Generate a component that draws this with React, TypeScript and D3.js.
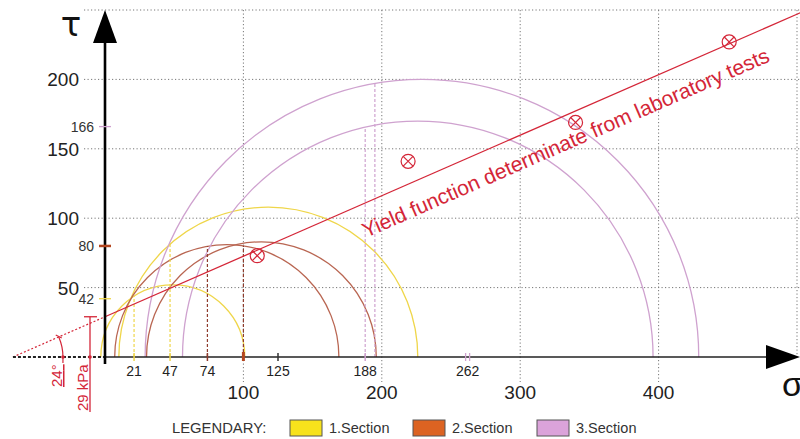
import React from "react";
import * as d3 from "d3";

// Mohr circles per section: [centre sigma, radius] in kPa
const section1Circles = [[49, 52], [118, 108]];
const section2Circles = [[88, 81], [113, 83]];
const section3Circles = [[229, 200], [226, 170]];
const sectionNames = ["1.Section", "2.Section", "3.Section"];

const sigmaTicks = [100, 200, 300, 400];
const sigmaGrid = [100, 200, 300, 400, 500];
const tauTicks = [50, 100, 150, 200];
const tauGrid = [50, 100, 150, 200, 250];

// special marks on the axes and which section they belong to (-1 = none)
const sigmaMarks = [21, 47, 74, 125, 188, 262];
const sigmaMarkSection = [0, 0, 1, -1, 2, 2];
const tauMarks = [42, 80, 166];
const tauMarkSection = [0, 1, 2];

// dashed verticals: sigma, section, circle index
const dropSigma = [21, 47, 74, 100, 188, 195];
const dropSection = [0, 0, 1, 1, 2, 2];
const dropCircle = [0, 1, 0, 0, 1, 0];

// laboratory test points [sigma, tau]
const testPoints = [[110, 73], [219, 141], [340, 169], [451, 227]];

const cohesion = 29;
const frictionAngle = 24;
const yieldSlope = 0.436;

const W = 800, H = 439;
const circleColors = ["#efd64a", "#b96652", "#cfa2cf"];
const boxColors = ["#f7e21c", "#dc6322", "#dba3da"];
const red = "#d42638";
const font = "Liberation Sans, Arial, sans-serif";

export default function App() {
  const x = d3.scaleLinear().domain([0, 500]).range([105, 797]);
  const y = d3.scaleLinear().domain([0, 250]).range([357, 10]);
  const sections = [section1Circles, section2Circles, section3Circles];

  const semi = (c: number, r: number) => {
    const rx = x(c + r) - x(c), ry = y(0) - y(r);
    return `M${x(c - r)},${y(0)} A${rx},${ry} 0 0 1 ${x(c + r)},${y(0)}`;
  };

  const sigma0 = -cohesion / yieldSlope;
  const sigmaEnd = 505;
  const lineY = (s: number) => y(cohesion + yieldSlope * s);
  const angPx = (Math.atan2(lineY(0) - lineY(400), x(400) - x(0)) * 180) / Math.PI;

  // angle arc around the intercept
  const ax = x(sigma0), ay = y(0), ar = 50;
  const aRad = (angPx * Math.PI) / 180;
  const arcEnd = [ax + ar * Math.cos(aRad), ay - ar * Math.sin(aRad)];

  return (
    <div style={{ position: "fixed", left: 0, top: 0 }}>
      <svg width={W} height={H} style={{ display: "block", background: "#fff" }} fontFamily={font}>
        {/* grid */}
        {tauGrid.map((t) => (
          <line key={"hg" + t} x1={84} x2={800} y1={y(t)} y2={y(t)} stroke="#777" strokeWidth={1} strokeDasharray="1.2 2.3" />
        ))}
        {sigmaGrid.map((s) => (
          <line key={"vg" + s} x1={x(s)} x2={x(s)} y1={y(250)} y2={s === 500 ? y(0) : 382} stroke="#777" strokeWidth={1} strokeDasharray="1.2 2.3" />
        ))}

        {/* Mohr circles */}
        {sections.map((circles, si) =>
          circles.map(([c, r], ci) => (
            <path key={`c${si}${ci}`} d={semi(c, r)} fill="none" stroke={circleColors[si]} strokeWidth={1.3} />
          ))
        )}

        {/* dashed verticals */}
        {dropSigma.map((s, i) => {
          const [c, r] = sections[dropSection[i]][dropCircle[i]];
          const t = Math.sqrt(Math.max(0, r * r - (s - c) * (s - c)));
          return (
            <line key={"d" + i} x1={x(s)} x2={x(s)} y1={y(0)} y2={y(t)} stroke={dropSection[i] === 1 ? "#8e3b2c" : circleColors[dropSection[i]]}
              strokeWidth={1.2} strokeDasharray="3 2" />
          );
        })}

        {/* yield line */}
        <line x1={x(sigma0)} y1={lineY(sigma0)} x2={x(0)} y2={lineY(0)} stroke={red} strokeWidth={1.2} strokeDasharray="2 2" />
        <line x1={x(0)} y1={lineY(0)} x2={x(sigmaEnd)} y2={lineY(sigmaEnd)} stroke={red} strokeWidth={1.3} />
        <text transform={`translate(366,238) rotate(${-angPx})`} fontSize={21} fill={red} textLength={442} lengthAdjust="spacingAndGlyphs">
          Yield function determinate from laboratory tests
        </text>

        {/* test points */}
        {testPoints.map(([s, t], i) => (
          <g key={"p" + i} transform={`translate(${x(s)},${y(t)})`} stroke={red} strokeWidth={1.2} fill="none">
            <circle r={7} />
            <line x1={-4.9} y1={-4.9} x2={4.9} y2={4.9} />
            <line x1={-4.9} y1={4.9} x2={4.9} y2={-4.9} />
          </g>
        ))}

        {/* sigma axis */}
        <line x1={x(sigma0)} x2={x(0)} y1={y(0)} y2={y(0)} stroke="#222" strokeWidth={2} strokeDasharray="3 2" />
        <line x1={x(0)} x2={770} y1={y(0)} y2={y(0)} stroke="#222" strokeWidth={1.6} />
        <path d={`M766,345 L800,${y(0)} L766,369 Z`} fill="#000" />
        <text x={782} y={396} fontSize={34} fill="#111">σ</text>

        {/* tau axis */}
        <line x1={x(0)} x2={x(0)} y1={364} y2={40} stroke="#000" strokeWidth={2.6} />
        <path d={`M${x(0)},10 L${x(0) + 12},43 L${x(0) - 12},43 Z`} fill="#000" />
        <text x={71} y={36} fontSize={34} textAnchor="middle" fill="#111" fontFamily="DejaVu Sans, sans-serif">τ</text>

        {/* main tick labels */}
        {sigmaTicks.map((s) => (
          <text key={"sx" + s} x={x(s)} y={399} fontSize={19} textAnchor="middle" fill="#222">{s}</text>
        ))}
        {tauTicks.map((t) => (
          <text key={"ty" + t} x={79} y={y(t) + 7} fontSize={19} textAnchor="end" fill="#222">{t}</text>
        ))}

        {/* special sigma marks */}
        {sigmaMarks.map((s, i) => {
          const sec = sigmaMarkSection[i];
          const col = sec < 0 ? "#333" : sec === 1 ? "#8e3b2c" : circleColors[sec];
          return (
            <g key={"sm" + s}>
              {sec === 2 && s > 200 ? (
                <>
                  <line x1={x(s) - 2} x2={x(s) - 2} y1={y(0) - 4} y2={y(0) + 4} stroke={col} strokeWidth={1.3} />
                  <line x1={x(s) + 2} x2={x(s) + 2} y1={y(0) - 4} y2={y(0) + 4} stroke={col} strokeWidth={1.3} />
                </>
              ) : (
                <line x1={x(s)} x2={x(s)} y1={y(0) - 4} y2={y(0) + 4} stroke={col} strokeWidth={1.5} />
              )}
              <text x={x(s)} y={376} fontSize={14} textAnchor="middle" fill="#222">{s}</text>
            </g>
          );
        })}
        <line x1={x(100)} x2={x(100)} y1={y(0) - 5} y2={y(0) + 4} stroke="#b4461f" strokeWidth={3} />

        {/* special tau marks */}
        {tauMarks.map((t, i) => {
          const sec = tauMarkSection[i];
          const col = sec === 1 ? "#b4461f" : circleColors[sec];
          return (
            <g key={"tm" + t}>
              <line x1={x(0) - 6} x2={x(0) + 6} y1={y(t)} y2={y(t)} stroke={col} strokeWidth={sec === 1 ? 2.5 : 1.3} />
              <text x={94} y={y(t) + 5} fontSize={14} textAnchor="end" fill="#333">{t}</text>
            </g>
          );
        })}

        {/* angle + cohesion annotation */}
        <path d={`M${ax + ar},${ay + 6} L${ax + ar},${ay} A${ar},${ar} 0 0 0 ${arcEnd[0]},${arcEnd[1]}`} fill="none" stroke={red} strokeWidth={1.2} />
        <line x1={arcEnd[0] - 3} y1={arcEnd[1] - 2} x2={arcEnd[0] + 3} y2={arcEnd[1] + 1} stroke={red} strokeWidth={1.2} />
        <circle cx={ax + ar} cy={ay} r={1.8} fill={red} />
        <text transform={`translate(62,387) rotate(-90)`} fontSize={15} fill={red} textDecoration="underline">{frictionAngle}°</text>

        <line x1={90} x2={90} y1={lineY(0)} y2={412} stroke={red} strokeWidth={1.3} />
        <line x1={84} x2={97} y1={lineY(0)} y2={lineY(0)} stroke={red} strokeWidth={1.3} />
        <circle cx={90} cy={y(0)} r={1.8} fill={red} />
        <text transform={`translate(88,411) rotate(-90)`} fontSize={15} fill={red}>{cohesion} kPa</text>

        {/* legend */}
        <text x={172} y={433} fontSize={14.8} fill="#333">LEGENDARY:</text>
        {sectionNames.map((n, i) => {
          const bx = [290, 413, 537][i];
          return (
            <g key={n}>
              <rect x={bx} y={420} width={32} height={16} fill={boxColors[i]} stroke="#555" strokeWidth={1} />
              <text x={bx + 39} y={433} fontSize={14.5} fill="#333">{n}</text>
            </g>
          );
        })}
      </svg>
    </div>
  );
}
